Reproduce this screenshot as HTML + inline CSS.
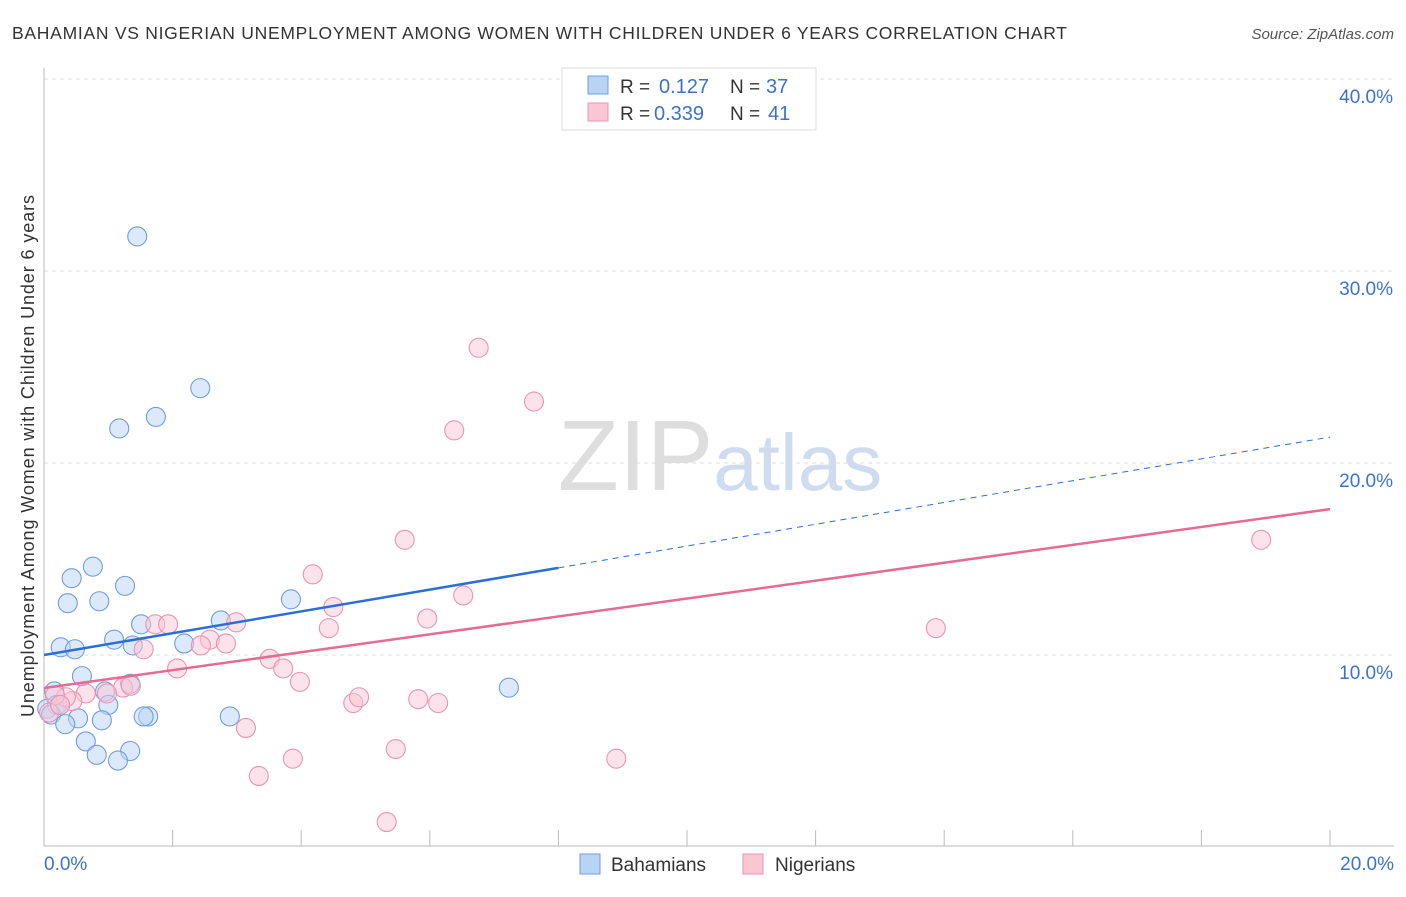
<!DOCTYPE html>
<html><head><meta charset="utf-8"><style>
body{margin:0;background:#fff;font-family:"Liberation Sans",sans-serif;}
svg text{font-family:"Liberation Sans",sans-serif;}
</style></head><body>
<svg id="chart" width="1406" height="892" xmlns="http://www.w3.org/2000/svg">
<text x="12" y="39" font-size="17.5" fill="#333" textLength="1055" lengthAdjust="spacing">BAHAMIAN VS NIGERIAN UNEMPLOYMENT AMONG WOMEN WITH CHILDREN UNDER 6 YEARS CORRELATION CHART</text>
<text x="1394" y="39" font-size="15" fill="#555" text-anchor="end" font-style="italic">Source: ZipAtlas.com</text>
<text x="720" y="490" font-size="100" text-anchor="middle" fill="#dedede" font-family="Liberation Serif">ZIP<tspan fill="#cfdcf0" font-family="Liberation Sans" font-size="80">atlas</tspan></text>
<text transform="translate(34,456) rotate(-90)" font-size="18" fill="#333" text-anchor="middle" textLength="522" lengthAdjust="spacing">Unemployment Among Women with Children Under 6 years</text>
<g id="grid"></g><g id="axes"></g><g id="pts"></g><g id="lines"></g>
<g>
<rect x="562" y="68" width="254" height="62" fill="#fff" stroke="#ddd"/>
<rect x="588" y="76" width="20" height="18" fill="#b9d3f5" stroke="#6f9de0"/>
<rect x="588" y="103" width="20" height="18" fill="#f9c6d6" stroke="#eb94b2"/>
<text x="620" y="93" font-size="19" fill="#333">R =</text><text x="659" y="93" font-size="20" fill="#3b73c8">0.127</text>
<text x="730" y="93" font-size="19" fill="#333">N =</text><text x="766" y="93" font-size="20" fill="#3b73c8">37</text>
<text x="620" y="120" font-size="19" fill="#333">R =</text><text x="654" y="120" font-size="20" fill="#3b73c8">0.339</text>
<text x="730" y="120" font-size="19" fill="#333">N =</text><text x="768" y="120" font-size="20" fill="#3b73c8">41</text>
</g>
<g>
<rect x="580" y="854" width="20" height="20" fill="#b9d3f5" stroke="#6f9de0"/>
<text x="611" y="871" font-size="19" fill="#333">Bahamians</text>
<rect x="743" y="854" width="20" height="20" fill="#f9c6d6" stroke="#eb94b2"/>
<text x="775" y="871" font-size="19" fill="#333">Nigerians</text>
</g>
</svg>
<script>
const yTicks=[10,20,30,40];
const yTickLabels=["10.0%","20.0%","30.0%","40.0%"];
const xTickVals=[0,2,4,6,8,10,12,14,16,18,20];
const xEndLabels=["0.0%","20.0%"];
const bahX=[1.45,2.43,1.74,1.17,0.76,0.43,1.26,0.37,0.86,3.84,2.75,1.51,1.09,2.18,0.26,0.48,1.38,0.59,1.34,0.95,1.0,0.16,0.2,0.05,0.11,0.53,0.9,0.33,2.89,1.62,1.55,0.65,0.82,1.34,1.15,7.23,0.25];
const bahY=[31.8,23.9,22.4,21.8,14.6,14.0,13.6,12.7,12.8,12.9,11.8,11.6,10.8,10.6,10.4,10.3,10.5,8.9,8.5,8.1,7.4,8.1,7.4,7.2,6.9,6.7,6.6,6.4,6.8,6.8,6.8,5.5,4.8,5.0,4.5,8.3,7.4];
const nigX=[6.76,7.62,6.38,5.61,4.18,6.52,4.5,5.96,4.43,2.99,1.73,1.93,1.55,2.58,2.44,2.83,2.07,3.51,3.72,3.98,1.23,1.35,0.98,0.65,0.44,0.34,0.17,4.81,4.9,5.82,6.13,3.14,5.47,3.87,3.34,5.33,8.9,13.87,18.93,0.08,0.25];
const nigY=[26.0,23.2,21.7,16.0,14.2,13.1,12.5,11.9,11.4,11.7,11.6,11.6,10.3,10.8,10.5,10.6,9.3,9.8,9.3,8.6,8.3,8.4,8.0,8.0,7.6,7.8,7.9,7.5,7.8,7.7,7.5,6.2,5.1,4.6,3.7,1.3,4.6,11.4,16.0,7.0,7.4];
const bahLine=[10.0,21.35]; const bahSolidEnd=8.0;
const nigLine=[8.28,17.6];
const X=v=>44+v*64.3, Y=v=>847-v*19.2;
const NS="http://www.w3.org/2000/svg";
function mk(p,t,a){const e=document.createElementNS(NS,t);for(const k in a)e.setAttribute(k,a[k]);document.getElementById(p).appendChild(e);return e;}
yTicks.forEach((v,i)=>{
 const g=mk('grid','line',{x1:44,x2:1394,y1:Y(v),y2:Y(v),stroke:'#ddd','stroke-dasharray':'4,4'});
 
 
 const t=mk('grid','text',{x:1393,y:Y(v)+24,'font-size':19,fill:'#3b73c8','text-anchor':'end'});
 t.textContent=yTickLabels[i];
 
 
});
const ax=mk('axes','line',{x1:44,x2:44,y1:68,y2:846,stroke:'#bbb'});


const bx=mk('axes','line',{x1:44,x2:1394,y1:846,y2:846,stroke:'#bbb'});


xTickVals.forEach(v=>{const t=mk('axes','line',{x1:X(v),x2:X(v),y1:830,y2:846,stroke:'#bbb'});
 
 });
[[0,'start',44],[20,'end',1394]].forEach((d,i)=>{const t=mk('axes','text',{x:d[2],y:870,'font-size':19,fill:'#3b73c8','text-anchor':d[1]});t.textContent=xEndLabels[i];
 
 });
function pts(xs,ys,f,s,n){xs.forEach((x,i)=>{const c=mk('pts','circle',{cx:X(x),cy:Y(ys[i]),r:9.5,fill:f,'fill-opacity':0.5,stroke:s,'stroke-width':1.1});
 
 });}
pts(bahX,bahY,'#b9d3f5','#6f9de0','bahamian-point');
pts(nigX,nigY,'#f9c6d6','#eb94b2','nigerian-point');
const by=v=>bahLine[0]+(bahLine[1]-bahLine[0])*v/20;
const l1=mk('lines','line',{x1:X(0),y1:Y(by(0)),x2:X(bahSolidEnd),y2:Y(by(bahSolidEnd)),stroke:'#2b6fd6','stroke-width':2.5});


const l2=mk('lines','line',{x1:X(bahSolidEnd),y1:Y(by(bahSolidEnd)),x2:X(20),y2:Y(by(20)),stroke:'#2b6fd6','stroke-width':1,'stroke-dasharray':'6,5'});


const l3=mk('lines','line',{x1:X(0),y1:Y(nigLine[0]),x2:X(20),y2:Y(nigLine[1]),stroke:'#e56b95','stroke-width':2.5});


</script>
</body></html>
